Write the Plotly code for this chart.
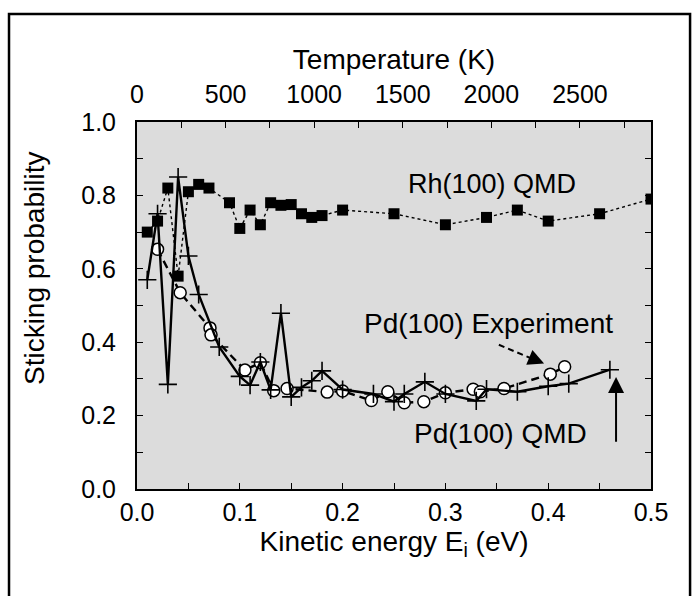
import plotly.graph_objects as go

# ---------------- data ----------------
rh_x = [0.01, 0.02, 0.03, 0.04, 0.05, 0.06, 0.07, 0.09, 0.10, 0.11, 0.12, 0.13, 0.14,
        0.15, 0.16, 0.17, 0.18, 0.20, 0.25, 0.30, 0.34, 0.37, 0.40, 0.45, 0.50]
rh_y = [0.70, 0.73, 0.82, 0.58, 0.81, 0.83, 0.82, 0.78, 0.71, 0.76, 0.72, 0.78, 0.773,
        0.775, 0.75, 0.74, 0.745, 0.76, 0.75, 0.72, 0.74, 0.76, 0.73, 0.75, 0.79]

pd_qmd_x = [0.01, 0.02, 0.03, 0.04, 0.05, 0.06, 0.08, 0.10, 0.11, 0.12, 0.13, 0.14, 0.15,
            0.16, 0.17, 0.18, 0.20, 0.23, 0.25, 0.26, 0.28, 0.30, 0.33, 0.34, 0.37, 0.40,
            0.42, 0.46]
pd_qmd_y = [0.57, 0.75, 0.285, 0.85, 0.635, 0.53, 0.387, 0.307, 0.283, 0.346, 0.27, 0.479,
            0.251, 0.277, 0.295, 0.322, 0.271, 0.259, 0.238, 0.259, 0.292, 0.259, 0.24,
            0.272, 0.265, 0.28, 0.287, 0.325]

pd_exp_x = [0.02, 0.042, 0.071, 0.072, 0.105, 0.12, 0.133, 0.146, 0.185, 0.20, 0.228,
            0.244, 0.26, 0.279, 0.30, 0.327, 0.334, 0.357, 0.402, 0.416]
pd_exp_y = [0.653, 0.535, 0.439, 0.42, 0.324, 0.344, 0.268, 0.274, 0.264, 0.267, 0.241,
            0.265, 0.235, 0.238, 0.262, 0.272, 0.265, 0.274, 0.313, 0.333]

x_range = [0.0, 0.5]
temp_range = [0.0, 2901.0]      # E = 2kT  ->  0.5 eV = 2901 K
y_range = [0.0, 1.0]

FONT = "Liberation Sans, Arial, Helvetica, sans-serif"
FS = 25     # tick labels
FT = 28     # axis titles

fig = go.Figure()

fig.add_trace(go.Scatter(
    x=pd_exp_x, y=pd_exp_y, mode="lines+markers", name="Pd(100) Experiment",
    line=dict(color="black", width=2.4, dash="8px,5px"),
    marker=dict(symbol="circle", size=12, color="white",
                line=dict(color="black", width=1.5)),
))
fig.add_trace(go.Scatter(
    x=pd_qmd_x, y=pd_qmd_y, mode="lines+markers", name="Pd(100) QMD",
    line=dict(color="black", width=2.4),
    marker=dict(symbol="cross-thin", size=13, color="black",
                line=dict(color="black", width=1.6)),
))
fig.add_trace(go.Scatter(
    x=rh_x, y=rh_y, mode="lines+markers", name="Rh(100) QMD",
    line=dict(color="black", width=1.4, dash="dot"),
    marker=dict(symbol="square", size=11, color="black"),
))
# invisible trace that carries the top (temperature) axis
fig.add_trace(go.Scatter(
    x=temp_range, y=y_range, xaxis="x2", mode="markers",
    marker=dict(opacity=0), hoverinfo="skip", showlegend=False,
))

axis_common = dict(
    showline=True, linecolor="black", linewidth=2, ticks="inside", ticklen=6,
    tickwidth=1.2, tickcolor="black", showgrid=False, zeroline=False,
    tickfont=dict(family=FONT, size=FS, color="black"),
)

fig.update_layout(
    width=696, height=596,
    margin=dict(l=137, r=45, t=122, b=107),
    paper_bgcolor="white", plot_bgcolor="#dcdcdc",
    showlegend=False,
    font=dict(family=FONT, size=FS, color="black"),
    xaxis=dict(
        range=x_range, dtick=0.1, tick0=0, tickformat=".1f",
        minor=dict(dtick=0.05, ticks="inside", ticklen=6, tickcolor="black"),
        ticklabelstandoff=0,
        title=dict(text="Kinetic energy E<sub>i</sub> (eV)",
                   font=dict(family=FONT, size=FT), standoff=3),
        **axis_common,
    ),
    xaxis2=dict(
        range=temp_range, overlaying="x", side="top", anchor="y", dtick=500, tick0=0,
        minor=dict(dtick=250, ticks="inside", ticklen=6, tickcolor="black"),
        ticklabelstandoff=7,
        title=dict(text="Temperature (K)", font=dict(family=FONT, size=FT), standoff=2),
        **axis_common,
    ),
    yaxis=dict(
        range=y_range, dtick=0.2, tick0=0, tickformat=".1f", mirror="ticks",
        minor=dict(dtick=0.1, ticks="inside", ticklen=6, tickcolor="black"),
        ticklabelstandoff=14,
        **axis_common,
    ),
)

# y-axis title (placed as in the reference, slightly above the plot centre)
fig.add_annotation(x=-0.198, y=0.6, xref="paper", yref="paper",
                   text="Sticking probability", textangle=-90, showarrow=False,
                   xanchor="center", yanchor="middle", font=dict(family=FONT, size=FT))

# outer frame
fig.add_shape(type="rect", xref="paper", yref="paper",
              x0=-0.249, x1=1.076, y0=-0.40, y1=1.294,
              line=dict(color="black", width=2.5), layer="below")

# labels
fig.add_annotation(x=0.345, y=0.832, xref="x", yref="y", text="Rh(100) QMD",
                   showarrow=False, font=dict(family=FONT, size=27))
fig.add_annotation(x=0.342, y=0.452, xref="x", yref="y", text="Pd(100) Experiment",
                   showarrow=False, font=dict(family=FONT, size=28))
fig.add_annotation(x=0.354, y=0.15, xref="x", yref="y", text="Pd(100) QMD",
                   showarrow=False, font=dict(family=FONT, size=28))

# dashed arrow (shaft + head)
fig.add_shape(type="line", xref="x", yref="y", x0=0.352, y0=0.393, x1=0.386, y1=0.353,
              line=dict(color="black", width=2, dash="6px,4px"))
fig.add_annotation(x=0.396, y=0.342, ax=0.384, ay=0.356, xref="x", yref="y",
                   axref="x", ayref="y", text="", showarrow=True,
                   arrowhead=2, arrowsize=1.6, arrowwidth=2, arrowcolor="black")
# solid arrow
fig.add_annotation(x=0.466, y=0.305, ax=0.466, ay=0.125, xref="x", yref="y",
                   axref="x", ayref="y", text="", showarrow=True,
                   arrowhead=2, arrowsize=1.6, arrowwidth=2, arrowcolor="black")

fig.write_html("out.html")
